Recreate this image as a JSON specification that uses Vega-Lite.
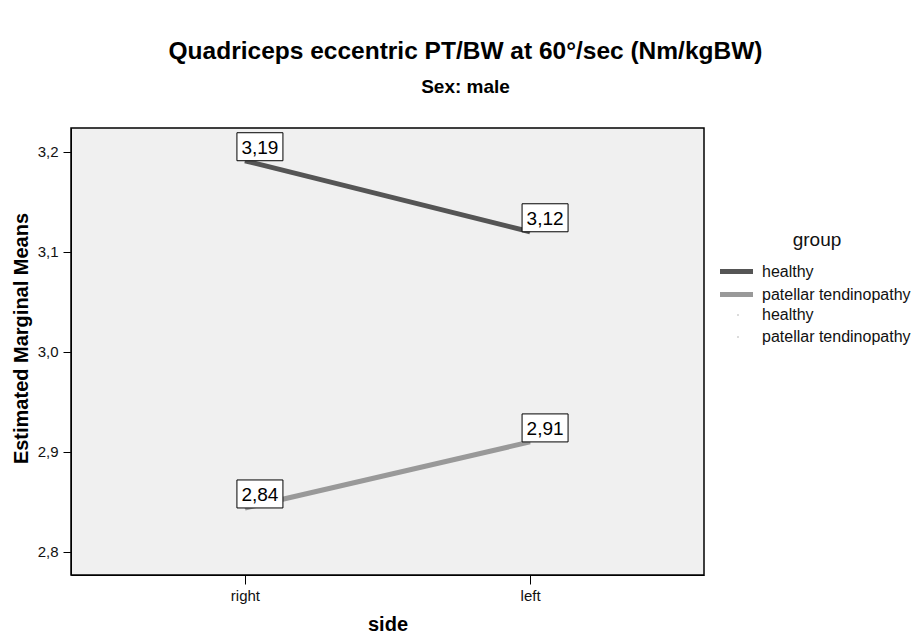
{
  "$schema": "https://vega.github.io/schema/vega-lite/v6.json",
  "width": 633,
  "height": 447,
  "autosize": {"type": "none"},
  "padding": {"left": 71, "top": 128, "right": 214, "bottom": 62},
  "background": "white",
  "title": {
    "text": "Quadriceps eccentric PT/BW at 60°/sec (Nm/kgBW)",
    "subtitle": "Sex: male",
    "font": "Liberation Sans",
    "fontSize": 24.5,
    "fontWeight": "bold",
    "color": "black",
    "subtitleFont": "Liberation Sans",
    "subtitleFontSize": 19,
    "subtitleFontWeight": "bold",
    "subtitleColor": "black",
    "subtitlePadding": 14,
    "anchor": "middle",
    "frame": "group",
    "dx": 78,
    "offset": 30
  },
  "config": {
    "view": {"fill": "#f0f0f0", "stroke": "black", "strokeWidth": 1.5},
    "axis": {
      "labelFont": "Liberation Sans",
      "labelFontSize": 15,
      "labelColor": "#111",
      "titleFont": "Liberation Sans",
      "titleFontSize": 20,
      "titleFontWeight": "bold",
      "titleColor": "black",
      "domainColor": "black",
      "tickColor": "black",
      "tickSize": 8,
      "grid": false
    },
    "legend": {
      "labelFont": "Liberation Sans",
      "labelFontSize": 16,
      "labelColor": "#111",
      "titleFont": "Liberation Sans",
      "titleFontSize": 19,
      "titleFontWeight": "normal",
      "titleColor": "#111"
    }
  },
  "data": {
    "values": [
      {"side": "right", "group": "healthy", "grp": "healthy.", "value": 3.191, "label": "3,19"},
      {"side": "left", "group": "healthy", "grp": "healthy.", "value": 3.12, "label": "3,12"},
      {"side": "right", "group": "patellar tendinopathy", "grp": "patellar tendinopathy.", "value": 2.844, "label": "2,84"},
      {"side": "left", "group": "patellar tendinopathy", "grp": "patellar tendinopathy.", "value": 2.91, "label": "2,91"}
    ]
  },
  "encoding": {
    "x": {
      "field": "side",
      "type": "nominal",
      "scale": {"type": "point", "domain": ["right", "left"], "padding": 0.61},
      "axis": {"title": "side", "labelAngle": 0, "labelPadding": 4, "titlePadding": 11, "tickSize": 9}
    },
    "y": {
      "field": "value",
      "type": "quantitative",
      "scale": {"domain": [2.777, 3.2237], "nice": false, "zero": false},
      "axis": {
        "title": "Estimated Marginal Means",
        "values": [2.8, 2.9, 3.0, 3.1, 3.2],
        "labelExpr": "replace(format(datum.value, '.1f'), '.', ',')",
        "labelPadding": 5,
        "titlePadding": 6,
        "titleY": 210
      }
    }
  },
  "layer": [
    {
      "mark": {"type": "line", "strokeWidth": 5},
      "encoding": {
        "color": {
          "field": "group",
          "type": "nominal",
          "scale": {"domain": ["healthy", "patellar tendinopathy"], "range": ["#555555", "#999999"]},
          "legend": {
            "title": "group",
            "orient": "none",
            "legendX": 653,
            "legendY": 103,
            "titleAnchor": "middle",
            "symbolType": "M-1.65,0L1.65,0",
            "symbolSize": 400,
            "symbolStrokeWidth": 5,
            "rowPadding": -1,
            "labelOffset": 13,
            "titlePadding": 9
          }
        }
      }
    },
    {
      "mark": {"type": "point", "filled": true, "size": 1},
      "encoding": {
        "shape": {
          "field": "grp",
          "type": "nominal",
          "scale": {"domain": ["healthy.", "patellar tendinopathy."], "range": ["circle", "circle"]},
          "legend": {
            "title": null,
            "orient": "none",
            "legendX": 659,
            "legendY": 179,
            "symbolSize": 2,
            "symbolFillColor": "#777",
            "symbolStrokeColor": "#777",
            "symbolStrokeWidth": 0,
            "labelOffset": 16,
            "rowPadding": 6,
            "labelExpr": "replace(datum.label, '.', '')"
          }
        },
        "color": {"value": "#777"}
      }
    },
    {
      "mark": {"type": "rect", "width": 46, "height": 28, "fill": "white", "stroke": "black", "strokeWidth": 1, "xOffset": 15, "yOffset": -14},
      "encoding": {}
    },
    {
      "mark": {"type": "text", "font": "Liberation Sans", "fontSize": 19, "color": "black", "baseline": "middle", "align": "center", "xOffset": 15, "yOffset": -13},
      "encoding": {"text": {"field": "label"}}
    }
  ]
}
